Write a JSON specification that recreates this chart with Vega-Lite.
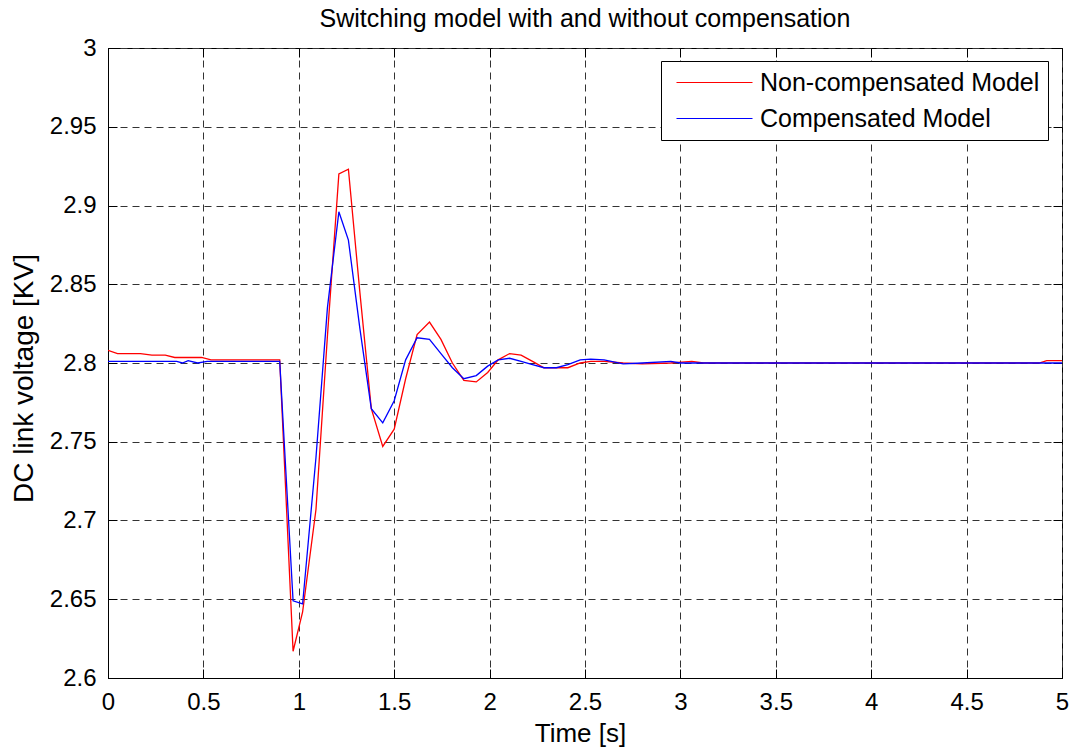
{
  "$schema": "https://vega.github.io/schema/vega-lite/v6.json",
  "width": 954,
  "height": 630,
  "autosize": {"type": "none"},
  "padding": {"left": 108, "top": 48, "right": 9, "bottom": 71},
  "background": "white",
  "title": {"text": "Switching model with and without compensation", "font": "Liberation Sans", "fontSize": 25, "fontWeight": "normal", "color": "black", "offset": 4, "anchor": "middle"},
  "config": {
    "view": {"stroke": "black", "strokeWidth": 1},
    "font": "Liberation Sans"
  },
  "data": {"values": [
    {"t": 0, "v": 2.808, "s": "Non-compensated Model"},
    {"t": 0.05, "v": 2.806, "s": "Non-compensated Model"},
    {"t": 0.17, "v": 2.806, "s": "Non-compensated Model"},
    {"t": 0.23, "v": 2.805, "s": "Non-compensated Model"},
    {"t": 0.3, "v": 2.805, "s": "Non-compensated Model"},
    {"t": 0.35, "v": 2.8035, "s": "Non-compensated Model"},
    {"t": 0.49, "v": 2.8035, "s": "Non-compensated Model"},
    {"t": 0.54, "v": 2.802, "s": "Non-compensated Model"},
    {"t": 0.9, "v": 2.802, "s": "Non-compensated Model"},
    {"t": 0.97, "v": 2.617, "s": "Non-compensated Model"},
    {"t": 1.02, "v": 2.642, "s": "Non-compensated Model"},
    {"t": 1.09, "v": 2.707, "s": "Non-compensated Model"},
    {"t": 1.15, "v": 2.817, "s": "Non-compensated Model"},
    {"t": 1.21, "v": 2.92, "s": "Non-compensated Model"},
    {"t": 1.26, "v": 2.923, "s": "Non-compensated Model"},
    {"t": 1.32, "v": 2.845, "s": "Non-compensated Model"},
    {"t": 1.38, "v": 2.771, "s": "Non-compensated Model"},
    {"t": 1.44, "v": 2.747, "s": "Non-compensated Model"},
    {"t": 1.5, "v": 2.758, "s": "Non-compensated Model"},
    {"t": 1.56, "v": 2.79, "s": "Non-compensated Model"},
    {"t": 1.62, "v": 2.818, "s": "Non-compensated Model"},
    {"t": 1.685, "v": 2.826, "s": "Non-compensated Model"},
    {"t": 1.745, "v": 2.815, "s": "Non-compensated Model"},
    {"t": 1.805, "v": 2.8, "s": "Non-compensated Model"},
    {"t": 1.865, "v": 2.789, "s": "Non-compensated Model"},
    {"t": 1.93, "v": 2.788, "s": "Non-compensated Model"},
    {"t": 1.99, "v": 2.794, "s": "Non-compensated Model"},
    {"t": 2.045, "v": 2.802, "s": "Non-compensated Model"},
    {"t": 2.105, "v": 2.806, "s": "Non-compensated Model"},
    {"t": 2.165, "v": 2.805, "s": "Non-compensated Model"},
    {"t": 2.225, "v": 2.801, "s": "Non-compensated Model"},
    {"t": 2.285, "v": 2.797, "s": "Non-compensated Model"},
    {"t": 2.35, "v": 2.797, "s": "Non-compensated Model"},
    {"t": 2.41, "v": 2.797, "s": "Non-compensated Model"},
    {"t": 2.475, "v": 2.8, "s": "Non-compensated Model"},
    {"t": 2.53, "v": 2.801, "s": "Non-compensated Model"},
    {"t": 2.6, "v": 2.801, "s": "Non-compensated Model"},
    {"t": 2.7, "v": 2.8, "s": "Non-compensated Model"},
    {"t": 2.8, "v": 2.7995, "s": "Non-compensated Model"},
    {"t": 2.95, "v": 2.8, "s": "Non-compensated Model"},
    {"t": 3.06, "v": 2.801, "s": "Non-compensated Model"},
    {"t": 3.12, "v": 2.8, "s": "Non-compensated Model"},
    {"t": 4.88, "v": 2.8, "s": "Non-compensated Model"},
    {"t": 4.92, "v": 2.8015, "s": "Non-compensated Model"},
    {"t": 5.0, "v": 2.8015, "s": "Non-compensated Model"},
    {"t": 0, "v": 2.801, "s": "Compensated Model"},
    {"t": 0.36, "v": 2.801, "s": "Compensated Model"},
    {"t": 0.39, "v": 2.8, "s": "Compensated Model"},
    {"t": 0.42, "v": 2.8015, "s": "Compensated Model"},
    {"t": 0.47, "v": 2.8, "s": "Compensated Model"},
    {"t": 0.52, "v": 2.801, "s": "Compensated Model"},
    {"t": 0.9, "v": 2.801, "s": "Compensated Model"},
    {"t": 0.97, "v": 2.649, "s": "Compensated Model"},
    {"t": 1.02, "v": 2.647, "s": "Compensated Model"},
    {"t": 1.09, "v": 2.74, "s": "Compensated Model"},
    {"t": 1.15, "v": 2.835, "s": "Compensated Model"},
    {"t": 1.21, "v": 2.896, "s": "Compensated Model"},
    {"t": 1.26, "v": 2.878, "s": "Compensated Model"},
    {"t": 1.32, "v": 2.822, "s": "Compensated Model"},
    {"t": 1.38, "v": 2.771, "s": "Compensated Model"},
    {"t": 1.44, "v": 2.762, "s": "Compensated Model"},
    {"t": 1.5, "v": 2.776, "s": "Compensated Model"},
    {"t": 1.56, "v": 2.802, "s": "Compensated Model"},
    {"t": 1.62, "v": 2.816, "s": "Compensated Model"},
    {"t": 1.685, "v": 2.815, "s": "Compensated Model"},
    {"t": 1.745, "v": 2.806, "s": "Compensated Model"},
    {"t": 1.805, "v": 2.797, "s": "Compensated Model"},
    {"t": 1.865, "v": 2.79, "s": "Compensated Model"},
    {"t": 1.93, "v": 2.792, "s": "Compensated Model"},
    {"t": 1.99, "v": 2.798, "s": "Compensated Model"},
    {"t": 2.045, "v": 2.802, "s": "Compensated Model"},
    {"t": 2.105, "v": 2.803, "s": "Compensated Model"},
    {"t": 2.165, "v": 2.801, "s": "Compensated Model"},
    {"t": 2.225, "v": 2.799, "s": "Compensated Model"},
    {"t": 2.285, "v": 2.797, "s": "Compensated Model"},
    {"t": 2.35, "v": 2.797, "s": "Compensated Model"},
    {"t": 2.41, "v": 2.799, "s": "Compensated Model"},
    {"t": 2.475, "v": 2.802, "s": "Compensated Model"},
    {"t": 2.53, "v": 2.8025, "s": "Compensated Model"},
    {"t": 2.6, "v": 2.802, "s": "Compensated Model"},
    {"t": 2.7, "v": 2.7995, "s": "Compensated Model"},
    {"t": 2.8, "v": 2.8, "s": "Compensated Model"},
    {"t": 2.95, "v": 2.801, "s": "Compensated Model"},
    {"t": 3.0, "v": 2.8, "s": "Compensated Model"},
    {"t": 5.0, "v": 2.8, "s": "Compensated Model"}
  ]},
  "layer": [
    {
      "mark": {"type": "line", "strokeWidth": 1.3, "clip": true},
      "encoding": {
        "x": {"field": "t", "type": "quantitative", "scale": {"domain": [0, 5], "nice": false, "zero": false},
          "axis": {"title": "Time [s]", "values": [0, 0.5, 1, 1.5, 2, 2.5, 3, 3.5, 4, 4.5, 5], "format": "~g",
            "labelFontSize": 24, "labelColor": "black", "labelFont": "Liberation Sans", "labelPadding": 21, "labelFlush": false,
            "tickSize": -9, "tickColor": "black", "domainColor": "black",
            "grid": true, "gridColor": "#333333", "gridDash": [7, 5], "gridWidth": 1,
            "titleFontSize": 26, "titleFont": "Liberation Sans", "titleFontWeight": "normal", "titleColor": "black", "titlePadding": 6, "titleX": 472}},
        "y": {"field": "v", "type": "quantitative", "scale": {"domain": [2.6, 3.0], "nice": false, "zero": false},
          "axis": {"title": "DC link voltage [KV]", "values": [2.6, 2.65, 2.7, 2.75, 2.8, 2.85, 2.9, 2.95, 3.0], "format": "~g",
            "labelFontSize": 24, "labelColor": "black", "labelFont": "Liberation Sans", "labelPadding": 21, "labelFlush": false,
            "tickSize": -9, "tickColor": "black", "domainColor": "black",
            "grid": true, "gridColor": "#333333", "gridDash": [7, 5], "gridWidth": 1,
            "titleFontSize": 28, "titleFont": "Liberation Sans", "titleFontWeight": "normal", "titleColor": "black", "titlePadding": 11, "titleY": 330}},
        "color": {"field": "s", "type": "nominal",
          "scale": {"domain": ["Non-compensated Model", "Compensated Model"], "range": ["#ff0000", "#0000ff"]},
          "sort": ["Non-compensated Model", "Compensated Model"],
          "legend": {"title": null, "orient": "none", "legendX": 553, "legendY": 13, "fillColor": "white", "strokeColor": "black",
            "padding": 8, "symbolType": "M-3,0H3", "symbolSize": 642, "symbolStrokeWidth": 1.2, "symbolOffset": 32,
            "labelFontSize": 25, "labelFont": "Liberation Sans", "labelColor": "black", "labelLimit": 500, "labelOffset": 32, "rowPadding": 9}}
      }
    },
    {
      "mark": {"type": "line", "strokeOpacity": 0},
      "encoding": {
        "x": {"field": "t", "type": "quantitative", "scale": {"domain": [0, 5], "nice": false, "zero": false},
          "axis": {"orient": "top", "title": null, "labels": false, "values": [0, 0.5, 1, 1.5, 2, 2.5, 3, 3.5, 4, 4.5, 5], "tickSize": -9, "tickColor": "black", "domain": false, "grid": false}},
        "y": {"field": "v", "type": "quantitative", "scale": {"domain": [2.6, 3.0], "nice": false, "zero": false},
          "axis": {"orient": "right", "title": null, "labels": false, "values": [2.6, 2.65, 2.7, 2.75, 2.8, 2.85, 2.9, 2.95, 3.0], "tickSize": -9, "tickColor": "black", "domain": false, "grid": false}},
        "detail": {"field": "s", "type": "nominal"}
      }
    }
  ],
  "resolve": {"axis": {"x": "independent", "y": "independent"}}
}
